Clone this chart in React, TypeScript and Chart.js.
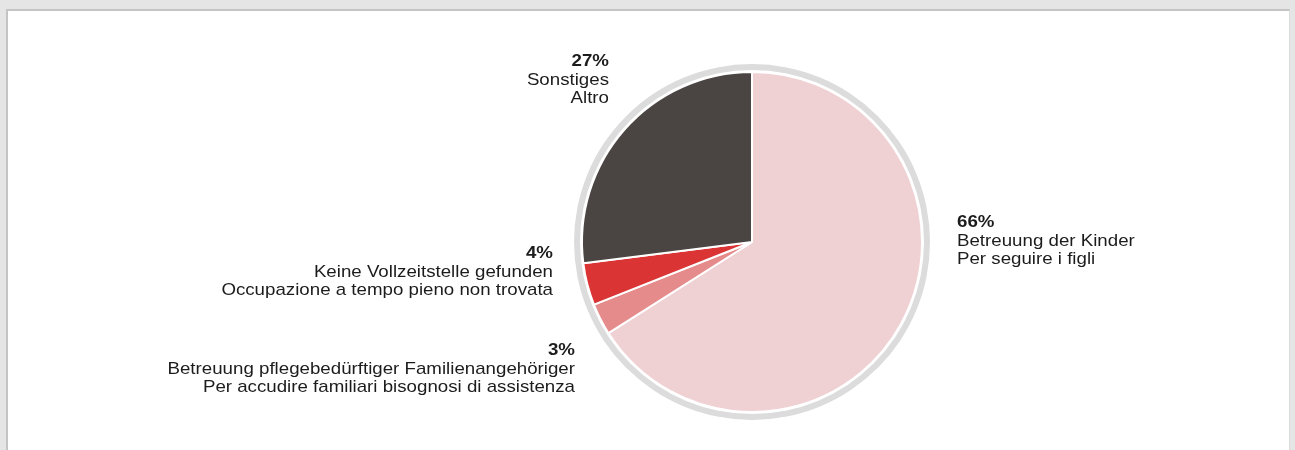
import React, { useEffect, useRef } from "react";
import { Chart, registerables } from "chart.js";

Chart.register(...registerables);

const categories = [
  ["Betreuung der Kinder", "Per seguire i figli"],
  ["Betreuung pflegebedürftiger Familienangehöriger", "Per accudire familiari bisognosi di assistenza"],
  ["Keine Vollzeitstelle gefunden", "Occupazione a tempo pieno non trovata"],
  ["Sonstiges", "Altro"],
];
const values = [66, 3, 4, 27];
const percentLabels = ["66%", "3%", "4%", "27%"];
const colors = ["#f0d1d3", "#e68b8b", "#da3434", "#4a4542"];

// label anchor offsets from pie center: [dx, dyFirstBaseline, align]
const labelAnchors: [number, number, CanvasTextAlign][] = [
  [205, -15, "left"],
  [-177, 113, "right"],
  [-199, 16, "right"],
  [-143, -176, "right"],
];

const labelPlugin = {
  id: "sliceLabels",
  afterDraw(chart: any) {
    const meta = chart.getDatasetMeta(2);
    if (!meta || !meta.data.length) return;
    const arc = meta.data[0];
    const cx = arc.x;
    const cy = arc.y;
    const ctx = chart.ctx;
    ctx.save();
    ctx.fillStyle = "#1c1c1c";
    ctx.textBaseline = "alphabetic";
    values.forEach((_, i) => {
      const [dx, dy, align] = labelAnchors[i];
      ctx.textAlign = align;
      const lines = [percentLabels[i], ...categories[i]];
      lines.forEach((t, j) => {
        ctx.font = (j === 0 ? "bold " : "") + "17px 'Liberation Sans', Arial, sans-serif";
        const y = cy + dy + j * 18.5;
        const x = cx + dx;
        ctx.save();
        ctx.translate(x, y);
        ctx.scale(1.1, 1);
        ctx.fillText(t, 0, 0);
        ctx.restore();
      });
    });
    ctx.restore();
  },
};

export default function App() {
  const ref = useRef<HTMLCanvasElement | null>(null);
  useEffect(() => {
    document.body.style.margin = "0";
    document.body.style.background = "#e5e5e5";
    if (!ref.current) return;
    const chart = new Chart(ref.current, {
      type: "pie",
      data: {
        labels: categories.map((c) => c[0]),
        datasets: [
          {
            data: [100],
            backgroundColor: ["#dcdcdc"],
            borderWidth: 0,
            weight: 6 / 170,
          } as any,
          {
            data: [100],
            backgroundColor: ["#ffffff"],
            borderWidth: 0,
            weight: 2 / 170,
          } as any,
          {
            data: values,
            backgroundColor: colors,
            borderColor: "#ffffff",
            borderWidth: 2,
            weight: 1,
          },
        ],
      },
      options: {
        animation: false,
        responsive: false,
        maintainAspectRatio: false,
        layout: { padding: { top: 53, bottom: 31, left: 207, right: 0 } },
        plugins: {
          legend: { display: false },
          tooltip: { enabled: false },
        },
      },
      plugins: [labelPlugin],
    });
    return () => chart.destroy();
  }, []);
  return (
    <div
      style={{
        position: "absolute",
        left: 6,
        top: 9,
        width: 1281,
        height: 450,
        background: "#ffffff",
        borderLeft: "2px solid #c4c4c4",
        borderTop: "2px solid #c4c4c4",
        borderRight: "1px solid #dcdcdc",
      }}
    >
      <canvas ref={ref} width={1281} height={440} style={{ display: "block" }} />
    </div>
  );
}
